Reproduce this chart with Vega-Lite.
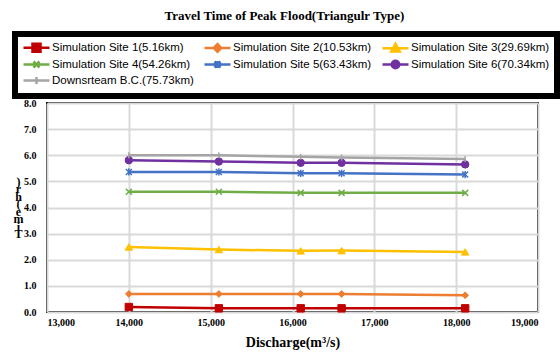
{
  "$schema": "https://vega.github.io/schema/vega-lite/v6.json",
  "width": 491,
  "height": 209,
  "autosize": {"type": "none"},
  "padding": {"left": 47, "top": 103, "right": 22, "bottom": 44},
  "title": {
    "text": "Travel Time of Peak Flood(Triangulr Type)",
    "font": "Liberation Serif",
    "fontSize": 13,
    "fontWeight": "bold",
    "color": "#000000",
    "anchor": "middle",
    "offset": 8,
    "dx": -8
  },
  "data": {
    "values": [
      {"series": "Simulation Site 1(5.16km)", "q": 14000, "t": 0.19},
      {"series": "Simulation Site 1(5.16km)", "q": 15100, "t": 0.14},
      {"series": "Simulation Site 1(5.16km)", "q": 16100, "t": 0.14},
      {"series": "Simulation Site 1(5.16km)", "q": 16600, "t": 0.14},
      {"series": "Simulation Site 1(5.16km)", "q": 18110, "t": 0.14},
      {"series": "Simulation Site 2(10.53km)", "q": 14000, "t": 0.69},
      {"series": "Simulation Site 2(10.53km)", "q": 15100, "t": 0.69},
      {"series": "Simulation Site 2(10.53km)", "q": 16100, "t": 0.69},
      {"series": "Simulation Site 2(10.53km)", "q": 16600, "t": 0.69},
      {"series": "Simulation Site 2(10.53km)", "q": 18110, "t": 0.64},
      {"series": "Simulation Site 3(29.69km)", "q": 14000, "t": 2.49},
      {"series": "Simulation Site 3(29.69km)", "q": 15100, "t": 2.39},
      {"series": "Simulation Site 3(29.69km)", "q": 16100, "t": 2.34},
      {"series": "Simulation Site 3(29.69km)", "q": 16600, "t": 2.35},
      {"series": "Simulation Site 3(29.69km)", "q": 18110, "t": 2.30},
      {"series": "Simulation Site 4(54.26km)", "q": 14000, "t": 4.60},
      {"series": "Simulation Site 4(54.26km)", "q": 15100, "t": 4.60},
      {"series": "Simulation Site 4(54.26km)", "q": 16100, "t": 4.56},
      {"series": "Simulation Site 4(54.26km)", "q": 16600, "t": 4.56},
      {"series": "Simulation Site 4(54.26km)", "q": 18110, "t": 4.56},
      {"series": "Simulation Site 5(63.43km)", "q": 14000, "t": 5.36},
      {"series": "Simulation Site 5(63.43km)", "q": 15100, "t": 5.36},
      {"series": "Simulation Site 5(63.43km)", "q": 16100, "t": 5.31},
      {"series": "Simulation Site 5(63.43km)", "q": 16600, "t": 5.31},
      {"series": "Simulation Site 5(63.43km)", "q": 18110, "t": 5.26},
      {"series": "Simulation Site 6(70.34km)", "q": 14000, "t": 5.81},
      {"series": "Simulation Site 6(70.34km)", "q": 15100, "t": 5.76},
      {"series": "Simulation Site 6(70.34km)", "q": 16100, "t": 5.71},
      {"series": "Simulation Site 6(70.34km)", "q": 16600, "t": 5.71},
      {"series": "Simulation Site 6(70.34km)", "q": 18110, "t": 5.65},
      {"series": "Downsrteam B.C.(75.73km)", "q": 14000, "t": 6.00},
      {"series": "Downsrteam B.C.(75.73km)", "q": 15100, "t": 6.00},
      {"series": "Downsrteam B.C.(75.73km)", "q": 16100, "t": 5.94},
      {"series": "Downsrteam B.C.(75.73km)", "q": 16600, "t": 5.91},
      {"series": "Downsrteam B.C.(75.73km)", "q": 18110, "t": 5.86}
    ]
  },
  "encoding": {
    "x": {
      "field": "q",
      "type": "quantitative",
      "scale": {"domain": [13000, 19000], "nice": false, "zero": false},
      "axis": {
        "title": "Discharge(m³/s)",
        "values": [13000, 14000, 15000, 16000, 17000, 18000, 19000],
        "format": ",d",
        "labelFont": "Liberation Serif",
        "labelFontWeight": "bold",
        "labelFontSize": 10,
        "labelColor": "#000000",
        "labelPadding": 5,
        "ticks": false,
        "domain": false,
        "gridColor": "#d9d9d9",
        "gridWidth": 2,
        "titleFont": "Liberation Serif",
        "titleFontSize": 14,
        "titleFontWeight": "bold",
        "titleColor": "#000000",
        "titlePadding": 8
      }
    },
    "y": {
      "field": "t",
      "type": "quantitative",
      "scale": {"domain": [0, 8], "nice": false},
      "axis": {
        "title": [")", "r", "h", "(", "e", "m", "i", "T"],
        "titleAngle": 0,
        "titleLineHeight": 7.5,
        "titleX": -29,
        "titleY": 78,
        "titleAlign": "center",
        "titleBaseline": "middle",
        "titleFont": "Liberation Serif",
        "titleFontSize": 12,
        "titleFontWeight": "bold",
        "titleColor": "#000000",
        "values": [0, 1, 2, 3, 4, 5, 6, 7, 8],
        "format": ".1f",
        "labelFont": "Liberation Serif",
        "labelFontWeight": "bold",
        "labelFontSize": 10,
        "labelColor": "#000000",
        "labelPadding": 11,
        "ticks": false,
        "domain": false,
        "gridColor": "#d9d9d9",
        "gridWidth": 2
      }
    }
  },
  "layer": [
    {
      "mark": {"type": "line", "strokeWidth": 2.5},
      "encoding": {
        "color": {
          "field": "series",
          "type": "nominal",
          "sort": null,
          "scale": {
            "domain": ["Simulation Site 1(5.16km)", "Simulation Site 2(10.53km)", "Simulation Site 3(29.69km)", "Simulation Site 4(54.26km)", "Simulation Site 5(63.43km)", "Simulation Site 6(70.34km)", "Downsrteam B.C.(75.73km)"],
            "range": ["#C00000", "#ED7D31", "#FFC000", "#70AD47", "#4472C4", "#7030A0", "#A5A5A5"]
          },
          "legend": {
            "title": null,
            "orient": "none",
            "legendX": -32,
            "legendY": -69,
            "direction": "horizontal",
            "columns": 3,
            "columnPadding": 5,
            "rowPadding": -2,
            "padding": 7,
            "fillColor": "#ffffff",
            "strokeColor": "#000000",
            "labelFont": "Liberation Sans",
            "labelFontSize": 11.5,
            "labelLimit": 300,
            "labelColor": "#000000",
            "labelOffset": 17,
            "symbolSize": 100,
            "symbolStrokeWidth": 2.5,
            "encode": {
              "legend": {"update": {"strokeWidth": {"value": 6}}},
              "symbols": {
                "update": {
                  "shape": {"signal": "['M-1,0L4.2,0M0.8,-0.8L2.4,-0.8L2.4,0.8L0.8,0.8Z','M-1,0L4.2,0M1.6,-0.75L2.35,0L1.6,0.75L0.85,0Z','M-1,0L4.2,0M1.6,-0.85L2.45,0.65L0.75,0.65Z','M-1,0L4.2,0M1,-0.6L2.2,0.6M1,0.6L2.2,-0.6','M-1,0L4.2,0M1,-0.6L2.2,0.6M1,0.6L2.2,-0.6M1.6,-0.7L1.6,0.7','M-1,0L4.2,0M0.85,0A0.75,0.75,0,1,0,2.35,0A0.75,0.75,0,1,0,0.85,0Z','M-1,0L4.2,0M1.6,-0.7L1.6,0.7'][indexof(domain('color'), datum.value)]"},
                  "fill": {"signal": "scale('color', datum.value)"},
                  "strokeWidth": {"value": 2.5},
                  "opacity": {"value": 1}
                }
              }
            }
          }
        }
      }
    },
    {
      "transform": [{"filter": "datum.series === 'Simulation Site 1(5.16km)'"}],
      "mark": {"type": "point", "shape": "square", "filled": true, "opacity": 1, "size": 55, "fill": "#C00000", "stroke": "#C00000", "strokeWidth": 1}
    },
    {
      "transform": [{"filter": "datum.series === 'Simulation Site 2(10.53km)'"}],
      "mark": {"type": "point", "shape": "diamond", "filled": true, "opacity": 1, "size": 45, "fill": "#ED7D31", "stroke": "#ED7D31", "strokeWidth": 1}
    },
    {
      "transform": [{"filter": "datum.series === 'Simulation Site 3(29.69km)'"}],
      "mark": {"type": "point", "shape": "triangle-up", "filled": true, "opacity": 1, "size": 55, "fill": "#FFC000", "stroke": "#FFC000", "strokeWidth": 1}
    },
    {
      "transform": [{"filter": "datum.series === 'Simulation Site 4(54.26km)'"}],
      "mark": {"type": "point", "shape": "M-1,-1L1,1M-1,1L1,-1", "filled": false, "opacity": 1, "size": 36, "stroke": "#70AD47", "strokeWidth": 1.5}
    },
    {
      "transform": [{"filter": "datum.series === 'Simulation Site 5(63.43km)'"}],
      "mark": {"type": "point", "shape": "M-1,-1L1,1M-1,1L1,-1M0,-1.2L0,1.2", "filled": false, "opacity": 1, "size": 36, "stroke": "#4472C4", "strokeWidth": 1.5}
    },
    {
      "transform": [{"filter": "datum.series === 'Simulation Site 6(70.34km)'"}],
      "mark": {"type": "point", "shape": "circle", "filled": true, "opacity": 1, "size": 55, "fill": "#7030A0", "stroke": "#7030A0", "strokeWidth": 1}
    },
    {
      "transform": [{"filter": "datum.series === 'Downsrteam B.C.(75.73km)'"}],
      "mark": {"type": "point", "shape": "M0,-1L0,1", "filled": false, "opacity": 1, "size": 36, "stroke": "#A5A5A5", "strokeWidth": 1.5}
    }
  ],
  "config": {
    "view": {"stroke": "#000000", "strokeWidth": 2},
    "background": "#ffffff"
  }
}
